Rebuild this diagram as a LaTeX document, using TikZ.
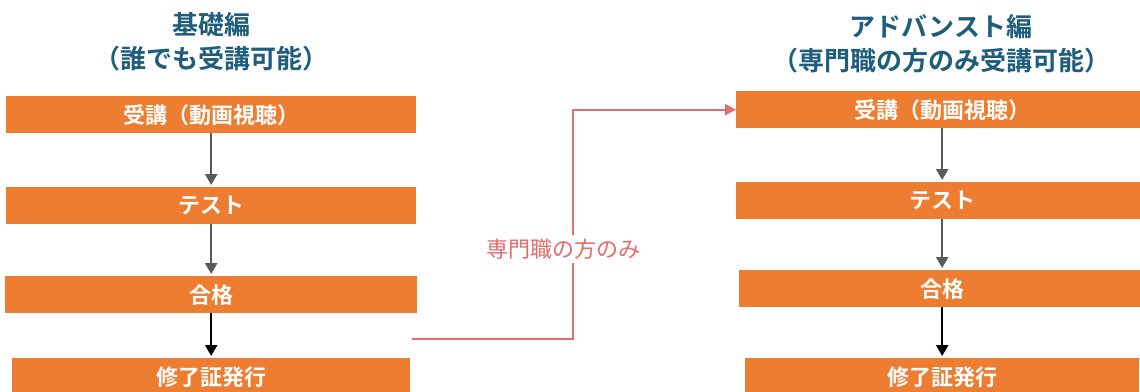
\documentclass[tikz,border=0pt]{standalone}
\usepackage{fontspec}
\newfontfamily\jpfont{Noto Sans CJK JP}[BoldFont={Noto Sans CJK JP Bold}]
\usetikzlibrary{arrows.meta, positioning}
\definecolor{stepcolor}{RGB}{237,125,49}
\definecolor{titlecolor}{RGB}{31,93,124}
\definecolor{routecolor}{RGB}{228,108,110}
\definecolor{arrowgray}{RGB}{89,89,89}

\begin{document}
\begin{tikzpicture}[x=1pt, y=-1pt,
    % Styles
    flow box/.style={fill=stepcolor, minimum height=37pt, inner sep=0, anchor=north west, text=white, font=\jpfont\bfseries\fontsize{22}{26}\selectfont},
    course title/.style={align=center, text=titlecolor, font=\jpfont\bfseries\fontsize{26}{34}\selectfont},
    flow arrow/.style={-{Triangle[length=11pt, width=12pt]}, arrowgray, line width=2.5pt, shorten >=2pt},
    pass arrow/.style={-{Triangle[length=11pt, width=12pt]}, black, line width=2.5pt, shorten >=2pt},
    route line/.style={-{Triangle[length=11pt, width=11pt]}, routecolor, line width=2.2pt},
    route label/.style={fill=white, inner sep=4pt, text=routecolor, font=\jpfont\fontsize{22}{26}\selectfont},
]
    \useasboundingbox (0,0) rectangle (1140,391);

    % === Basic course ===
    \node[course title] (basic-title) at (211,42) {基礎編\\（誰でも受講可能）};
    \node[flow box, minimum width=410pt] (b-watch) at (6,96) {受講（動画視聴）};
    \node[flow box, minimum width=410pt] (b-test) at (6,187) {テスト};
    \node[flow box, minimum width=412pt] (b-pass) at (5,276) {合格};
    \node[flow box, minimum width=398pt] (b-cert) at (12,358) {修了証発行};

    \draw[flow arrow] (b-watch) -- (b-test);
    \draw[flow arrow] (b-test) -- (b-pass);
    \draw[pass arrow] (b-pass) -- (b-cert);

    % === Advanced course ===
    \node[course title] (adv-title) at (941,44) {アドバンスト編\\（専門職の方のみ受講可能）};
    \node[flow box, minimum width=412pt] (a-watch) at (736,91) {受講（動画視聴）};
    \node[flow box, minimum width=412pt] (a-test) at (736,182) {テスト};
    \node[flow box, minimum width=406pt] (a-pass) at (739,270) {合格};
    \node[flow box, minimum width=394pt] (a-cert) at (745,358) {修了証発行};

    \draw[flow arrow] (a-watch) -- (a-test);
    \draw[flow arrow] (a-test) -- (a-pass);
    \draw[pass arrow] (a-pass) -- (a-cert);

    % Route for professionals only
    \coordinate (route-start) at (412,339);
    \coordinate (route-turn) at (573,339);
    \draw[route line] (route-start) -- (route-turn) |- (a-watch.west);
    \node[route label] (route-text) at (563,249) {専門職の方のみ};
\end{tikzpicture}
\end{document}
